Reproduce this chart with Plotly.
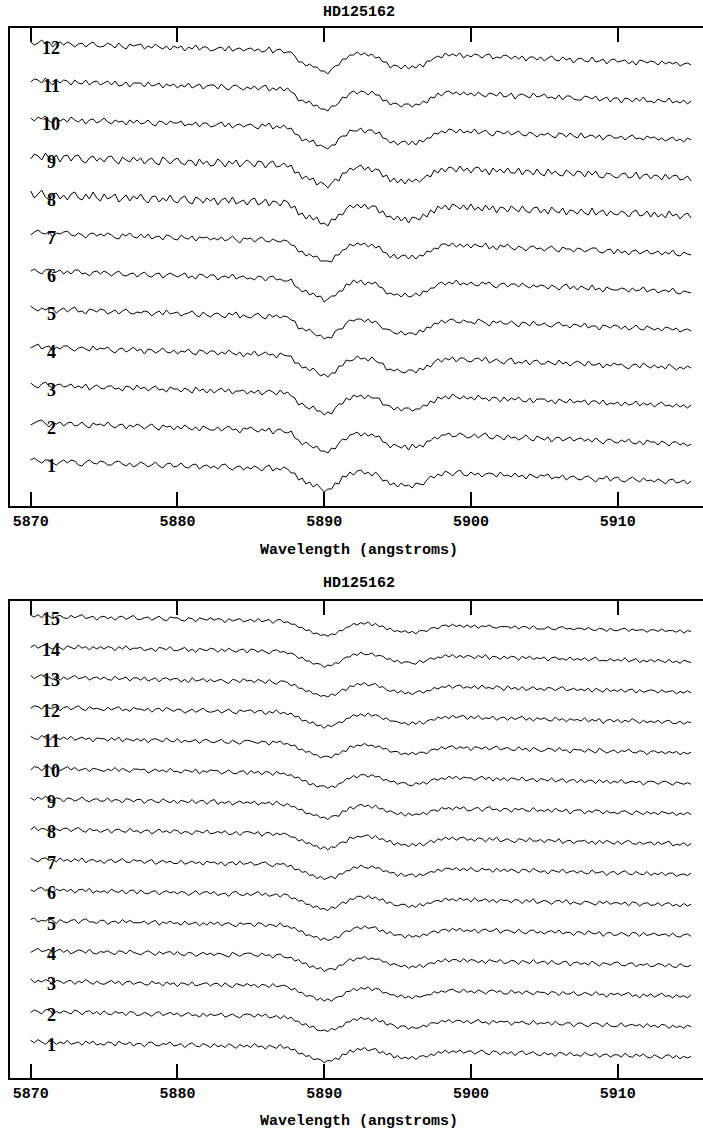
import plotly.graph_objects as go

# ---------------- data ----------------
wavelength = [5870.0 + 0.25 * i for i in range(181)]   # angstroms, 0.25 A sampling
tick_values = [5870, 5880, 5890, 5900, 5910]
tick_labels = ["5870", "5880", "5890", "5900", "5910"]
title_text = "HD125162"
xlabel_text = "Wavelength (angstroms)"

# relative flux (percent), top panel, spectra 1..12
top_01 = [101,103,100,98,101,101,98,96,99,101, 98,101,100,96,95,99,101,98,97,100, 99,96,96,99,100,97,95,98,94,96, 99,97,94,96,99,95,93,97,98,94, 95,98,94,93,96,97,92,95,96,93, 95,92,96,97,93,91,94,95,91,94, 92,95,93,90,94,96,90,93,91,94, 92,88,88,81,83,77,79,74,77,73, 69,72,72,78,77,85,84,89,86,90, 91,87,89,85,89,85,80,81,76,78, 74,78,75,76,73,78,77,76,81,85, 83,87,85,90,88,85,89,91,86,85, 89,86,88,84,87,88,87,84,89,85, 86,84,88,84,86,82,87,85,83,86, 85,87,82,84,83,86,81,84,85,82, 81,84,85,82,79,83,82,85,80,83, 84,80,79,82,84,81,79,83,80,81, 79,82,80,77,81,82,78,79,81,77,80]
top_02 = [98,100,102,103,99,96,100,99,101,97, 100,101,97,98,101,97,95,100,98,99, 97,101,97,95,98,99,94,98,96,99, 97,94,97,99,95,93,98,96,97,93, 97,94,98,95,93,96,92,97,95,93, 93,96,92,95,97,93,94,90,95,94, 96,93,91,94,92,95,89,93,94,91, 90,92,85,83,78,81,78,75,77,72, 72,70,75,74,80,84,83,88,89,91, 87,90,87,89,86,87,81,80,75,79, 77,75,78,73,79,75,78,76,82,82, 86,84,88,88,90,86,87,90,88,85, 86,89,85,88,90,85,84,88,86,83, 88,85,86,83,85,88,84,82,87,85, 83,86,81,85,86,82,84,86,82,84, 85,82,84,81,85,82,79,83,84,81, 80,83,81,84,80,79,82,78,83,81, 81,78,82,80,77,81,81,78,80,77,79]
top_03 = [102,99,97,101,103,99,97,100,101,98, 99,101,97,99,97,101,95,98,100,97, 96,99,99,96,97,94,99,98,95,100, 96,98,94,97,99,95,96,93,98,96, 96,93,97,95,92,98,94,96,92,96, 92,95,97,93,96,91,94,94,95,91, 94,92,95,90,93,95,93,90,95,91, 93,89,87,80,82,78,76,79,74,74, 70,73,71,77,81,81,87,85,90,88, 90,86,90,87,87,87,80,80,79,75, 78,74,77,77,74,76,76,80,79,84, 82,88,86,89,86,91,88,86,89,86, 88,85,90,86,87,84,88,87,83,88, 84,87,85,88,84,83,87,82,86,86, 86,83,85,81,86,84,82,86,82,84, 83,85,80,84,84,81,85,80,82,81, 83,79,83,80,81,84,79,82,80,82, 78,81,83,79,80,78,81,78,80,77,80]
top_04 = [99,101,103,98,100,101,96,100,98,101, 101,98,96,99,100,98,96,101,97,99, 98,100,96,94,98,99,95,97,100,96, 98,93,98,97,94,96,99,95,94,97, 93,96,95,98,94,92,97,96,93,96, 96,92,95,93,97,94,92,95,90,94, 92,96,91,93,95,92,93,89,94,92, 91,91,84,84,79,80,76,79,75,71, 73,70,74,74,81,81,87,86,87,91, 88,89,86,90,86,84,84,77,78,76, 78,75,74,77,77,74,79,77,82,80, 85,88,85,89,87,90,85,89,89,86, 85,88,89,86,90,84,86,88,85,83, 87,89,83,85,84,87,82,86,87,83, 83,86,84,82,87,83,85,81,84,86, 84,81,86,82,82,84,79,83,81,84, 82,83,80,78,82,83,79,84,81,79, 82,79,81,78,83,80,77,80,78,81,79]
top_05 = [103,100,98,101,99,101,100,96,99,101, 97,100,102,97,98,95,100,99,97,100, 99,95,97,99,95,98,100,96,95,97, 96,98,97,93,96,98,94,99,95,96, 97,93,95,96,98,94,92,97,94,92, 95,96,93,91,96,94,97,91,94,92, 91,94,96,92,90,95,92,94,91,93, 92,89,88,80,81,78,80,76,73,74, 70,72,71,78,80,80,86,89,88,90, 90,87,90,86,88,84,80,80,79,76, 75,78,74,76,76,74,79,77,82,81, 86,85,89,86,89,90,87,86,89,87, 87,85,90,88,86,83,88,86,88,85, 85,88,85,82,87,86,83,88,84,84, 86,83,82,85,87,83,84,81,85,84, 82,86,81,83,83,79,84,83,81,84, 83,80,83,79,81,84,80,79,83,81, 79,81,78,82,81,79,81,77,79,80,78]
top_06 = [100,102,99,97,101,102,98,99,101,97, 100,97,101,101,97,98,95,99,100,97, 100,98,95,98,100,96,95,97,98,94, 97,99,95,94,97,98,93,96,98,96, 94,96,98,93,95,92,97,96,93,96, 96,91,94,95,93,97,92,94,95,92, 93,91,95,94,90,94,95,91,92,90, 90,92,85,83,79,81,76,78,74,75, 69,72,75,75,80,80,87,86,91,88, 91,86,89,87,89,84,83,77,78,76, 77,74,78,74,75,78,75,80,79,83, 83,87,89,86,89,87,91,86,88,86, 89,86,85,89,87,89,85,83,87,88, 84,87,87,84,88,85,83,86,84,86, 85,82,86,84,81,85,87,82,85,81, 85,83,81,86,81,83,79,84,82,81, 81,83,82,79,83,80,81,84,79,81, 82,78,80,81,79,83,78,77,80,79,78]
top_07 = [98,101,103,100,99,101,96,100,99,101, 102,98,97,100,98,95,99,100,97,99, 97,100,98,95,94,99,97,100,96,95, 99,95,99,94,96,97,93,98,97,94, 93,98,95,94,97,92,96,95,96,93, 95,93,96,92,94,97,93,90,95,94, 95,91,94,96,92,91,94,92,91,93, 92,88,87,81,82,77,79,76,77,72, 72,72,71,78,78,83,84,89,87,90, 88,90,86,89,85,87,81,80,75,79, 74,77,78,74,78,74,78,77,82,81, 85,84,89,89,87,90,86,89,86,89, 85,89,87,86,90,84,87,83,88,86, 89,85,83,87,85,82,86,87,84,85, 82,85,87,83,81,86,84,84,81,85, 84,81,83,85,85,81,80,83,84,79, 84,80,82,78,82,83,79,81,83,79, 80,82,78,81,79,83,78,77,81,79,78]
top_08 = [104,97,101,105,98,95,101,102,96,100, 95,101,103,97,95,101,96,103,97,94, 101,96,98,101,93,97,100,94,99,96, 101,95,92,98,99,93,97,94,100,94, 92,97,99,93,91,98,96,92,97,94, 97,90,95,97,92,98,91,93,95,90, 95,97,90,92,96,89,94,93,89,95, 93,87,89,80,82,76,80,75,78,71, 72,69,76,75,81,80,86,90,87,91, 87,91,86,89,89,82,84,78,79,75, 79,74,78,72,78,77,75,81,78,85, 82,89,86,90,85,91,89,86,90,85, 91,85,88,84,90,85,89,82,88,87, 83,89,86,83,89,84,82,87,88,82, 86,81,88,84,82,87,80,85,84,81, 86,82,80,87,80,83,85,79,84,81, 80,84,82,78,83,85,79,80,84,78, 83,78,81,77,84,79,81,76,80,82,77]
top_09 = [98,103,101,97,104,99,97,102,95,101, 102,96,101,102,96,94,99,101,96,99, 95,100,101,96,93,100,97,95,100,96, 99,93,97,99,94,92,100,97,93,97, 99,94,92,97,96,91,98,93,96,91, 92,98,95,90,96,93,97,90,94,97, 94,90,96,95,89,94,96,90,91,94, 90,92,84,85,78,81,77,79,72,75, 73,69,74,78,76,84,84,89,87,90, 92,87,90,85,88,87,80,82,75,79, 74,78,73,78,75,78,75,79,82,80, 87,84,89,85,90,89,85,91,86,89, 84,89,90,85,88,82,89,85,88,84, 89,84,84,89,82,87,86,82,88,83, 81,88,83,86,82,81,87,84,81,86, 85,80,86,82,86,80,79,84,83,80, 79,83,84,79,80,85,78,82,83,78, 82,81,77,83,78,81,82,77,78,81,76]
top_10 = [101,98,102,100,103,98,96,101,98,100, 97,102,99,97,100,95,99,100,96,98, 101,97,95,99,97,98,94,99,96,99, 95,96,99,95,93,98,97,94,98,96, 96,98,93,95,94,97,92,96,96,92, 93,95,97,92,96,91,94,95,92,94, 95,92,90,95,93,96,90,93,91,94, 90,91,85,84,78,80,77,79,73,74, 72,70,74,74,81,83,83,89,88,88, 91,86,89,89,85,87,81,80,76,78, 74,77,78,74,78,74,79,77,81,81, 86,85,88,86,90,89,86,90,86,88, 86,90,85,87,89,85,83,88,87,85, 88,84,86,88,84,83,87,85,82,85, 84,86,83,81,86,85,82,86,83,81, 86,81,83,84,81,84,79,83,84,81, 81,83,79,82,84,80,81,79,83,81, 82,79,81,78,80,82,78,80,77,81,79]
top_11 = [99,102,101,98,103,99,96,101,98,101, 100,96,101,98,97,101,96,99,100,96, 98,100,96,100,95,96,99,94,98,98, 98,94,99,95,96,98,93,97,95,97, 93,96,94,98,93,95,97,92,95,96, 96,92,97,93,91,95,96,93,91,94, 92,95,91,94,96,90,93,91,94,90, 93,89,87,80,81,78,80,75,76,72, 72,70,75,75,78,84,83,88,90,87, 90,89,86,90,86,86,80,81,76,78, 77,74,77,77,74,77,76,80,78,84, 83,88,85,89,90,87,89,86,89,86, 88,85,89,86,84,88,87,85,89,84, 85,88,82,86,87,85,83,88,84,85, 87,83,84,82,86,81,85,85,82,81, 81,85,84,82,85,80,82,84,79,83, 83,78,83,82,79,83,80,84,79,80, 78,82,80,79,83,78,80,78,81,77,80]
top_12 = [101,98,100,103,99,101,96,100,101,98, 101,99,96,99,100,96,99,101,97,96, 97,100,98,95,100,96,94,99,97,98, 99,94,97,95,99,96,94,97,93,97, 95,97,92,96,94,98,93,96,96,92, 93,95,96,92,97,92,94,95,92,94, 95,92,94,91,92,96,90,93,94,90, 91,91,87,81,81,77,79,76,76,72, 72,69,74,77,78,84,84,88,88,91, 88,90,87,89,85,86,81,81,75,78, 77,74,78,74,77,75,79,76,82,82, 85,87,85,90,87,89,87,90,85,88, 86,89,88,85,88,89,84,86,85,88, 87,84,87,84,87,82,86,86,83,86, 82,85,87,83,82,86,83,85,80,84, 85,82,81,86,81,82,84,79,83,84, 81,82,83,79,82,78,83,82,80,82, 81,78,82,79,81,79,81,77,79,80,78]

# relative flux (percent), bottom panel, spectra 1..15
bot_01 = [102,99,103,100,97,101,101,97,100,98, 102,97,99,100,96,101,98,101,96,98, 96,100,99,95,101,98,97,100,95,98, 98,94,99,100,96,95,98,97,100,95, 96,98,93,97,99,95,94,98,96,93, 98,94,96,93,98,95,92,97,94,96, 93,98,94,95,91,96,94,92,97,92, 94,90,91,85,86,82,83,78,79,78, 74,77,76,80,78,85,84,90,87,92, 90,93,89,91,92,86,88,84,86,80, 83,79,81,79,82,78,82,83,81,85, 83,88,86,90,86,89,87,90,86,88, 89,85,87,90,86,84,89,88,84,88, 85,88,83,87,89,84,86,88,84,83, 87,84,86,82,87,86,83,87,83,84, 82,87,84,83,86,81,84,85,81,84, 84,81,86,82,81,85,82,85,81,80, 84,82,79,83,84,80,83,79,82,80,82]
bot_02 = [99,102,100,97,102,103,97,100,98,101, 99,97,102,100,96,100,101,97,100,96, 101,97,96,100,98,99,95,100,99,95, 96,99,97,94,98,100,95,97,99,96, 98,94,97,99,95,96,93,98,94,97, 95,96,98,93,95,97,94,92,96,97, 96,93,97,94,97,92,93,95,91,95, 91,93,88,88,83,85,80,82,77,76, 77,75,79,77,81,81,87,87,91,89, 93,90,92,88,92,87,89,83,85,83, 79,82,82,78,81,79,80,83,81,86, 86,85,89,87,90,86,89,89,86,89, 85,88,90,86,87,84,89,86,88,87, 88,83,87,86,88,85,84,89,84,86, 85,87,83,88,84,83,86,86,81,85, 86,83,81,85,86,84,81,86,82,81, 82,86,81,83,84,82,84,80,85,81, 83,80,84,83,79,83,80,82,79,83,81]
bot_03 = [103,98,101,99,102,100,96,101,100,97, 100,101,96,100,98,102,99,96,100,97, 96,98,101,97,100,95,99,100,96,98, 99,96,95,100,97,98,94,99,96,98, 93,98,97,95,99,94,96,97,98,94, 97,97,93,98,94,92,97,95,94,97, 94,96,92,96,95,92,97,93,94,95, 93,89,91,86,86,81,82,81,76,79, 75,78,75,79,81,81,87,87,91,88, 92,90,93,88,91,90,85,86,83,83, 80,83,79,81,78,82,80,82,83,83, 87,85,88,86,89,90,87,86,90,86, 88,85,89,87,84,88,89,86,88,84, 84,89,85,87,84,88,86,83,87,86, 86,83,87,86,82,87,84,84,87,82, 83,86,84,82,87,83,84,80,85,83, 85,82,84,86,81,83,79,84,81,84, 80,83,85,81,82,79,83,80,82,79,83]
bot_04 = [98,101,103,99,100,102,97,100,102,98, 101,96,99,101,100,97,102,97,96,99, 98,100,97,95,100,99,96,101,98,96, 95,98,100,97,94,99,96,98,99,95, 99,95,94,98,97,93,96,98,95,97, 94,97,96,94,92,98,95,93,96,97, 97,94,93,97,94,95,91,95,96,92, 91,92,87,89,84,85,79,81,77,79, 74,77,78,76,82,82,86,90,87,91, 90,93,89,91,89,90,86,86,82,84, 82,80,82,78,81,79,83,79,83,85, 84,88,86,90,86,89,89,86,90,86, 89,88,85,88,84,89,87,86,89,84, 85,88,87,83,88,86,84,89,84,86, 87,83,88,84,83,86,87,81,85,86, 83,85,82,87,84,81,85,84,82,85, 86,82,81,84,85,80,83,82,84,80, 81,84,83,80,84,80,79,84,81,80,82]
bot_05 = [101,103,98,100,99,102,100,96,101,98, 97,100,101,96,100,102,98,98,96,100, 100,95,98,99,96,101,97,100,97,97, 97,99,95,98,100,94,98,96,99,96, 97,94,99,95,96,98,93,97,94,98, 95,98,93,96,97,94,92,97,95,96, 96,92,97,96,92,95,94,92,97,92, 93,90,91,86,87,81,82,79,80,75, 78,75,76,80,78,84,87,86,90,92, 89,93,90,91,92,86,88,83,86,81, 82,82,78,82,79,81,79,83,81,85, 87,84,88,89,86,90,87,90,86,88, 86,89,84,88,89,86,87,90,84,87, 88,86,84,89,85,83,87,88,84,86, 83,86,87,84,88,83,85,85,81,86, 85,82,87,84,83,86,80,84,85,81, 82,85,82,80,85,84,80,85,81,83, 84,81,82,83,80,84,80,79,82,83,80]
bot_06 = [100,98,102,103,99,101,96,101,99,101, 98,101,96,100,101,98,102,96,99,97, 99,96,101,98,97,100,95,99,100,95, 100,96,95,98,99,94,97,99,96,98, 95,98,97,93,96,99,94,97,98,95, 98,93,95,96,92,97,98,94,93,96, 93,96,98,93,96,92,94,95,91,95, 94,89,90,86,87,82,82,78,80,76, 77,74,79,77,81,85,83,89,88,92, 92,89,93,89,91,87,89,83,85,81, 80,82,82,78,81,78,83,80,84,83, 86,87,85,90,87,89,86,90,87,89, 85,90,86,87,89,85,88,84,88,87, 87,84,88,87,83,88,85,89,83,85, 87,85,82,86,87,84,88,82,85,83, 82,86,85,83,81,86,83,86,82,84, 84,82,85,80,85,84,80,83,84,81, 81,84,80,83,84,80,82,79,83,80,82]
bot_07 = [102,100,97,101,102,99,100,97,102,98, 100,97,101,98,102,96,99,100,97,99, 95,99,100,96,98,101,97,96,100,98, 99,95,98,100,94,97,99,96,98,95, 95,99,94,96,98,95,97,93,98,96, 97,94,97,92,96,97,93,98,94,95, 97,93,94,96,97,93,91,95,94,95, 91,93,87,88,84,85,80,81,76,79, 75,77,79,76,82,82,86,86,91,89, 93,90,89,92,89,90,85,86,83,84, 79,83,79,81,82,78,82,80,83,85, 84,88,85,89,89,87,90,86,89,86, 90,86,85,89,87,88,84,89,85,88, 85,88,86,83,88,87,84,89,86,84, 86,82,87,85,84,88,83,85,86,83, 86,83,82,87,83,84,85,80,84,85, 81,84,86,82,81,85,82,81,85,80, 83,81,84,80,83,83,79,81,82,80,83]
bot_08 = [99,103,98,101,100,97,101,100,98,101, 101,97,100,102,98,96,101,98,99,96, 98,100,95,99,100,97,96,101,97,98, 95,98,99,94,97,100,96,98,95,99, 98,94,97,96,93,98,97,95,99,94, 95,97,95,98,93,94,97,92,96,97, 96,94,97,91,95,96,92,95,93,95, 93,90,90,85,87,82,83,79,79,75, 78,74,78,77,82,84,83,90,88,91, 90,92,93,88,92,87,88,84,86,80, 83,80,81,78,82,79,83,79,83,86, 83,88,86,90,87,90,86,89,90,86, 88,85,89,88,84,89,86,90,84,86, 88,85,83,88,87,84,89,85,85,87, 83,87,86,84,88,82,85,86,82,85, 85,86,82,85,81,86,82,86,83,81, 85,81,84,86,82,81,84,81,83,84, 80,84,81,83,85,79,81,80,83,79,82]
bot_09 = [101,98,102,99,103,100,97,101,100,96, 101,100,97,99,102,98,96,99,100,97, 97,101,96,99,98,95,100,99,96,99, 99,94,98,99,96,95,100,97,95,98, 94,98,96,95,99,94,97,98,93,97, 99,93,96,94,97,92,95,97,94,96, 94,97,92,95,94,96,92,97,93,91, 94,90,90,86,87,81,82,79,80,76, 77,74,78,79,78,85,84,90,87,91, 93,90,92,88,92,87,88,83,85,83, 80,83,78,82,79,81,80,83,80,85, 86,84,89,87,89,86,90,87,90,85, 85,88,89,84,88,90,86,87,84,88, 87,83,88,86,88,85,84,89,84,86, 84,87,83,88,85,84,87,81,85,86, 86,81,85,83,86,85,81,85,82,83, 81,84,85,82,80,85,83,80,84,81, 83,80,84,82,81,83,79,82,80,83,80]
bot_10 = [98,102,101,97,101,102,98,102,97,99, 102,98,101,97,99,100,96,100,99,97, 96,99,97,101,96,100,98,95,99,99, 98,99,94,97,99,96,98,95,100,96, 96,94,98,97,95,99,93,97,95,98, 97,97,93,95,98,94,93,96,97,92, 97,94,96,92,96,95,91,96,93,94, 91,92,88,89,84,85,79,81,77,78, 78,75,78,76,81,82,87,87,91,88, 92,92,89,92,89,90,85,86,83,84, 80,82,82,79,78,82,80,83,80,85, 87,85,88,86,90,87,90,86,89,88, 88,85,87,90,86,89,84,88,85,88, 84,88,87,85,89,84,86,87,83,87, 86,84,88,83,85,87,82,85,86,82, 86,82,85,85,81,86,82,85,81,84, 82,86,81,83,84,82,84,79,83,84, 83,80,83,84,81,79,83,81,80,82,80]
bot_11 = [102,99,98,103,100,97,101,100,98,101, 98,102,97,99,101,98,100,95,100,99, 99,96,100,97,101,95,99,98,96,99, 96,99,94,98,99,97,95,100,96,95, 99,94,97,95,96,98,93,97,98,95, 94,96,98,94,93,97,95,92,96,97, 96,94,93,96,95,91,96,94,96,92, 93,90,91,85,86,82,83,79,79,75, 77,77,75,80,79,84,83,90,88,91, 90,93,90,91,88,90,86,87,82,83, 83,79,81,79,82,79,82,82,80,85, 86,85,89,86,89,90,86,89,87,89, 84,89,88,86,89,85,87,90,85,87, 88,85,84,89,85,87,83,88,86,83, 84,87,86,83,88,84,85,81,86,85, 85,82,86,83,81,87,84,81,83,85, 81,84,83,86,82,81,84,83,79,83, 84,81,83,80,83,81,83,79,82,80,82]
bot_12 = [99,102,101,98,103,99,99,101,96,100, 101,97,100,102,98,96,101,98,99,97, 96,100,97,99,101,96,98,95,100,98, 98,96,99,94,98,99,95,100,97,95, 98,97,93,96,98,94,97,99,95,94, 95,97,93,96,98,94,92,97,95,96, 97,93,96,96,91,95,93,97,92,94, 91,93,88,89,83,84,80,82,77,78, 74,78,76,79,82,81,86,87,91,89, 92,89,93,89,91,89,85,87,83,83, 82,80,81,78,82,79,83,79,83,85, 84,88,86,89,86,90,87,89,90,85, 89,86,90,85,87,86,89,84,87,88, 84,88,85,87,89,84,87,83,87,85, 87,84,83,88,84,86,82,86,84,85, 83,87,82,85,83,86,80,84,85,82, 85,81,84,82,86,83,80,84,81,83, 81,84,80,83,84,80,80,83,79,82,81]
bot_13 = [102,98,101,103,99,100,97,101,96,100, 97,100,102,98,99,101,96,99,100,97, 100,97,96,101,97,98,100,95,99,99, 96,100,95,97,99,94,98,99,96,98, 98,94,97,93,99,95,96,98,94,97, 94,96,97,94,92,97,96,93,98,95, 96,93,97,95,92,97,93,91,95,95, 93,89,91,86,86,82,83,79,79,76, 77,75,79,77,81,85,83,89,88,92, 90,93,89,91,92,87,88,84,82,84, 80,83,79,81,78,81,83,80,83,83, 87,85,88,87,90,86,89,90,86,88, 86,89,85,90,86,87,85,89,87,83, 89,85,87,84,88,83,86,88,84,86, 83,87,86,83,86,88,83,84,86,83, 85,83,86,81,86,84,81,86,82,84, 82,85,81,84,85,80,84,81,83,84, 83,80,84,81,82,83,79,82,80,83,80]
bot_14 = [99,102,98,101,103,99,97,101,99,96, 101,99,97,102,98,100,96,100,97,100, 97,100,99,95,100,97,101,96,98,98, 99,95,97,98,94,99,98,96,100,95, 95,97,99,94,97,93,98,96,95,98, 97,93,97,94,98,95,93,96,97,92, 97,96,93,96,93,91,95,96,93,94, 91,92,90,85,87,82,82,78,79,78, 74,77,76,80,79,84,87,87,91,89, 93,90,90,92,88,89,88,84,85,81, 83,79,81,81,79,78,83,80,83,86, 84,87,86,90,87,90,86,89,86,89, 88,85,89,86,90,84,88,87,84,88, 85,88,87,83,88,85,88,84,86,85, 87,82,86,87,84,85,83,87,83,85, 83,86,82,85,87,82,83,82,85,82, 84,82,86,81,83,85,80,83,81,84, 81,84,82,80,84,80,82,79,83,81,80]
bot_15 = [101,99,102,98,103,100,97,100,101,98, 97,101,98,100,102,97,99,100,95,99, 100,97,99,95,99,100,96,98,101,96, 96,98,99,95,97,100,96,94,99,98, 98,95,94,98,97,93,98,96,95,98, 95,97,96,92,97,94,96,97,93,95, 96,93,97,93,95,96,91,95,96,92, 93,90,90,86,86,82,83,78,79,76, 77,75,78,77,82,82,86,87,91,89, 92,90,93,88,91,87,88,83,85,81, 82,80,82,79,81,78,82,82,81,85, 86,84,88,89,87,90,87,89,86,89, 86,89,85,88,87,89,86,85,87,87, 87,85,88,84,87,87,84,88,84,84, 84,87,84,83,86,87,84,85,83,85, 85,83,86,83,82,85,84,81,85,82, 82,84,85,81,84,82,83,83,80,83, 83,81,84,81,82,82,80,83,79,82,81]

top_spectra = [top_01, top_02, top_03, top_04, top_05, top_06,
               top_07, top_08, top_09, top_10, top_11, top_12]
bottom_spectra = [bot_01, bot_02, bot_03, bot_04, bot_05, bot_06, bot_07, bot_08,
                  bot_09, bot_10, bot_11, bot_12, bot_13, bot_14, bot_15]

# ---------------- styling / layout ----------------
OFFSET = 38          # vertical spacing of stacked spectra (flux %)
W, H = 703, 1134
ML = 10
PLOT_W = W - ML
PX_PER_A = 14.675
X0 = 5870 - (30.7 - ML) / PX_PER_A
X1 = X0 + PLOT_W / PX_PER_A

MONO = "Liberation Mono"
SERIF = "Liberation Serif"

fig = go.Figure()
annotations = []


def add_panel(spectra, xa, ya, label_drop):
    for k, flux in enumerate(spectra):
        fig.add_trace(go.Scatter(
            x=wavelength[:len(flux)], y=[v + k * OFFSET for v in flux],
            mode="lines", line=dict(color="black", width=1),
            xaxis=xa, yaxis=ya, showlegend=False, hoverinfo="skip"))
        annotations.append(dict(
            x=5871.4, y=100 + k * OFFSET - label_drop,
            xref=xa, yref=ya, text=str(k + 1), showarrow=False,
            xanchor="center", yanchor="middle",
            font=dict(family=SERIF, size=18, color="black", weight="bold")))


add_panel(top_spectra, "x", "y", 5)
add_panel(bottom_spectra, "x2", "y2", 4)


def px_to_paper_x(px):
    return (px - ML) / PLOT_W


def px_to_paper_y(py):
    return 1 - py / H


for ty, text in [(12, title_text), (550, xlabel_text), (583, title_text), (1121, xlabel_text)]:
    annotations.append(dict(
        x=px_to_paper_x(359), y=px_to_paper_y(ty), xref="paper", yref="paper",
        text=text, showarrow=False, xanchor="center", yanchor="middle",
        font=dict(family=MONO, size=15, color="black", weight="bold")))

xaxis_style = dict(
    range=[X0, X1], domain=[0, 1],
    showline=True, linecolor="black", linewidth=2, mirror="ticks",
    ticks="inside", ticklen=14, tickwidth=2, tickcolor="black",
    tickvals=tick_values, ticktext=tick_labels,
    tickfont=dict(family=MONO, size=15, color="black", weight="bold"),
    showgrid=False, zeroline=False, fixedrange=True)
yaxis_style = dict(
    showline=True, linecolor="black", linewidth=2, mirror=False,
    ticks="", showticklabels=False, showgrid=False, zeroline=False, fixedrange=True)

fig.update_layout(
    width=W, height=H,
    margin=dict(l=ML, r=0, t=0, b=0),
    paper_bgcolor="white", plot_bgcolor="white",
    xaxis=dict(anchor="y", **xaxis_style),
    yaxis=dict(domain=[1 - 506 / H, 1 - 28 / H], range=[55, 533], anchor="x", **yaxis_style),
    xaxis2=dict(anchor="y2", **xaxis_style),
    yaxis2=dict(domain=[1 - 1078 / H, 1 - 601 / H], range=[55, 651], anchor="x2", **yaxis_style),
    annotations=annotations,
    showlegend=False,
)

fig.write_html("out.html")
